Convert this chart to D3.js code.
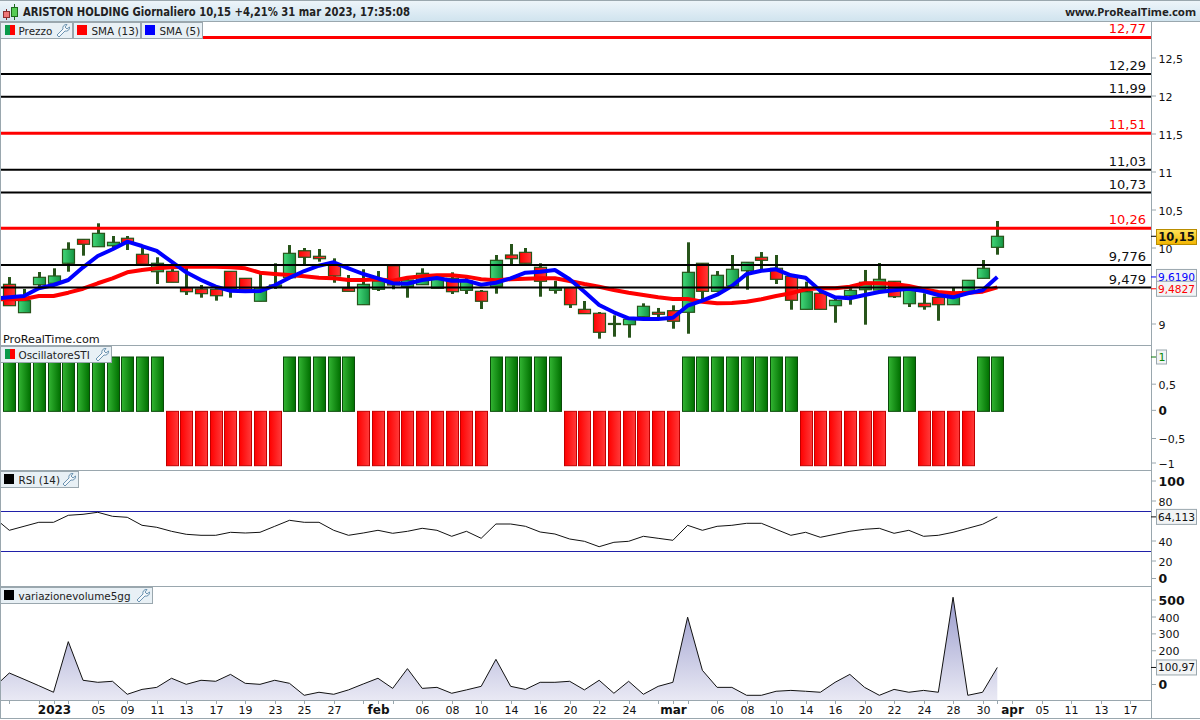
<!DOCTYPE html>
<html><head><meta charset="utf-8">
<script src="https://cdn.jsdelivr.net/npm/d3@7"></script>
<style>html,body{margin:0;padding:0;background:#fff}svg{display:block}text{font-family:"DejaVu Sans",sans-serif}</style>
</head><body><svg id="c" width="1200" height="720"></svg>
<script>
const titleText="ARISTON HOLDING Giornaliero 10,15 +4,21% 31 mar 2023, 17:35:08";
const siteText="www.ProRealTime.com";
const high=[9.618,9.461,9.684,9.733,10.075,10.118,10.325,10.158,10.158,10.026,9.878,9.737,9.776,9.513,9.474,9.693,9.605,9.658,9.799,10.039,10,9.987,9.864,9.645,9.72,9.697,9.767,9.592,9.733,9.618,9.68,9.605,9.447,9.908,10.053,10,9.799,9.57,9.487,9.303,9.158,9.114,9.092,9.272,9.211,9.246,10.075,9.803,9.697,9.908,9.816,9.947,9.908,9.632,9.557,9.434,9.355,9.474,9.711,9.803,9.566,9.474,9.404,9.355,9.478,9.579,9.842,10.355];
const low=[9.241,9.149,9.487,9.526,9.688,9.899,10.013,9.974,9.974,9.776,9.526,9.549,9.382,9.346,9.307,9.346,9.447,9.299,9.461,9.605,9.789,9.82,9.543,9.43,9.254,9.434,9.457,9.346,9.517,9.47,9.395,9.395,9.197,9.399,9.789,9.799,9.359,9.399,9.211,9.136,8.807,8.833,8.82,9.079,9.075,8.938,8.872,9.316,9.43,9.5,9.451,9.711,9.526,9.188,9.193,9.193,9.017,9.254,8.991,9.434,9.342,9.224,9.188,9.043,9.254,9.412,9.601,9.912];
const open=[9.522,9.149,9.517,9.536,9.799,10.114,10.017,10.03,10.128,9.917,9.688,9.693,9.478,9.461,9.457,9.693,9.601,9.299,9.487,9.609,9.964,9.891,9.776,9.47,9.254,9.457,9.767,9.491,9.517,9.47,9.601,9.443,9.43,9.496,9.908,9.943,9.746,9.443,9.478,9.193,9.141,9,8.991,9.096,9.154,9.175,9.154,9.799,9.43,9.5,9.701,9.878,9.733,9.628,9.193,9.404,9.241,9.372,9.451,9.447,9.562,9.267,9.272,9.351,9.254,9.412,9.601,10.009];
const close=[9.241,9.307,9.614,9.632,9.983,10.049,10.193,10.075,10.062,9.786,9.799,9.549,9.425,9.399,9.372,9.47,9.447,9.474,9.513,9.93,9.878,9.859,9.632,9.43,9.522,9.566,9.513,9.579,9.667,9.605,9.425,9.566,9.299,9.838,9.859,9.799,9.562,9.474,9.254,9.136,8.891,9.007,9.062,9.233,9.128,9.036,9.68,9.43,9.641,9.72,9.812,9.838,9.588,9.312,9.425,9.193,9.312,9.443,9.549,9.588,9.359,9.457,9.228,9.254,9.408,9.575,9.733,10.154];
const sma5=[9.336,9.351,9.368,9.47,9.513,9.579,9.746,9.895,9.983,10.083,10.026,9.961,9.82,9.68,9.579,9.491,9.438,9.43,9.434,9.509,9.609,9.697,9.767,9.812,9.733,9.658,9.601,9.536,9.53,9.579,9.605,9.57,9.57,9.517,9.543,9.601,9.675,9.688,9.711,9.588,9.425,9.25,9.154,9.075,9.066,9.066,9.083,9.241,9.307,9.386,9.5,9.658,9.701,9.72,9.641,9.609,9.438,9.351,9.338,9.382,9.421,9.443,9.464,9.434,9.382,9.351,9.404,9.443,9.619];
const sma13=[9.329,9.325,9.329,9.368,9.368,9.412,9.464,9.536,9.601,9.68,9.711,9.733,9.746,9.754,9.754,9.754,9.746,9.733,9.675,9.658,9.645,9.628,9.609,9.601,9.579,9.579,9.588,9.57,9.609,9.628,9.641,9.641,9.623,9.588,9.575,9.588,9.596,9.601,9.601,9.566,9.526,9.491,9.447,9.412,9.382,9.351,9.329,9.329,9.293,9.272,9.276,9.293,9.325,9.368,9.404,9.457,9.47,9.47,9.491,9.536,9.536,9.526,9.5,9.457,9.421,9.404,9.412,9.425,9.483];
const osc=[1,1,1,1,1,1,1,1,1,1,1,-1,-1,-1,-1,-1,-1,-1,-1,1,1,1,1,1,-1,-1,-1,-1,-1,-1,-1,-1,-1,1,1,1,1,1,-1,-1,-1,-1,-1,-1,-1,-1,1,1,1,1,1,1,1,1,-1,-1,-1,-1,-1,-1,1,1,-1,-1,-1,-1,1,1];
const rsi=[63,50.7,54.7,58.7,58.7,65.7,66.7,68.7,64.7,63.7,55.7,53.7,49.7,46.7,45.7,45.7,48.7,48,48.7,54.7,60.7,58.7,58.7,50.7,45.7,48,50.7,47.7,49.7,52.7,50.7,44.7,49.7,42.7,57,57,54.7,49,47,42,39.7,34.3,38.7,39.7,44.7,42.7,40.7,55.7,50.7,54.7,55.7,57.7,57.7,51.7,45.7,48.7,43.7,46.7,49.7,51.7,52.7,47.7,50.7,44.7,45.7,48.7,52.7,56.7,64.113];
const volVar=[-13,68,31,-7,-46,254,25,13,19,-58,-29,-17,37,1,25,19,60,7,1,25,7,-64,-46,-58,-32,3,37,-23,94,-23,-17,-52,-32,-11,149,-11,-29,13,13,19,-32,25,-52,19,-58,-11,13,399,84,-17,-17,-64,-64,-40,-35,-40,-46,13,60,-17,-64,-29,-46,-35,-46,517,-64,-46,100.97];
const levelsBlack=[12.29,11.99,11.03,10.73,9.776,9.479];
const levelsRed=[12.77,11.51,10.26];
const levelLabels={12.77:"12,77",12.29:"12,29",11.99:"11,99",11.51:"11,51",11.03:"11,03",10.73:"10,73",10.26:"10,26",9.776:"9,776",9.479:"9,479"};
const priceTicks=[12.5,12,11.5,11,10.5,10,9];
const priceTickLabels=["12,5","12","11,5","11","10,5","10","9"];
const oscTicks=[0.5,0,-0.5,-1];
const oscTickLabels=["0,5","0","−0,5","−1"];
const rsiTicks=[100,80,40,20,0];
const volTicks=[500,400,300,200,0];
const dateIdx=[3,6,8,10,12,14,16,18,20,22,25,28,30,32,34,36,38,40,42,45,48,50,52,54,56,58,60,62,64,66,68,70,72,74,76];
const dateLabels=["2023","05","09","11","13","17","19","23","25","27","feb","06","08","10","14","16","20","22","24","mar","06","08","10","14","16","20","22","24","28","30","apr","05","11","13","17"];
const minorIdx=[0,2,4,24,26,44,46,67];
const boldDates=["2023","feb","mar","apr"];
const legendPrice=["Prezzo","SMA (13)","SMA (5)"];

const W=1200,R=1151,L=0;
const svg=d3.select("#c");
const defs=svg.append("defs");
function grad(id,stops,h){const g=defs.append("linearGradient").attr("id",id);
 if(h){g.attr("x1",0).attr("x2",1).attr("y1",0).attr("y2",0);}else{g.attr("x1",0).attr("x2",0).attr("y1",0).attr("y2",1);}
 stops.forEach(s=>g.append("stop").attr("offset",s[0]).attr("stop-color",s[1]));}
grad("gG",[[0,"#42d878"],[1,"#149443"]],true);
grad("gRh",[[0,"#ff0000"],[1,"#ff3a3a"]],true);
grad("oG",[[0,"#33b533"],[1,"#006f00"]],true);
grad("oR",[[0,"#ff0000"],[1,"#ff3a3a"]],true);
grad("head",[[0,"#eef5fa"],[1,"#cfe3ee"]],false);
grad("vArea",[[0,"#9a9ccd"],[1,"#e9e9f4"]],false);
grad("gold",[[0,"#ffe25a"],[1,"#f2b400"]],false);
const frame="#9aa7ae";
const x=d3.scaleLinear().domain([0,67]).range([9.3,997.3]);
const y=d3.scaleLinear().domain([9,10]).range([324,248]);
const yO=d3.scaleLinear().domain([-1,1]).range([465.7,357]);
const yR=d3.scaleLinear().domain([0,100]).range([581,481]);
const yV=d3.scaleLinear().domain([0,400]).range([684.5,617]);

svg.append("rect").attr("width",W).attr("height",720).attr("fill","#fff");
defs.append("clipPath").attr("id","pc").append("rect").attr("x",1).attr("y",22).attr("width",R-1).attr("height",324);
defs.append("clipPath").attr("id","rc").append("rect").attr("x",1).attr("y",471).attr("width",R-1).attr("height",115);
defs.append("clipPath").attr("id","vc").append("rect").attr("x",1).attr("y",587).attr("width",R-1).attr("height",113);

// header
svg.append("rect").attr("x",0).attr("y",0).attr("width",W).attr("height",22).attr("fill","url(#head)");
svg.append("line").attr("x1",0).attr("x2",W).attr("y1",21.5).attr("y2",21.5).attr("stroke",frame);
svg.append("line").attr("x1",0).attr("x2",W).attr("y1",0.5).attr("y2",0.5).attr("stroke",frame);
const ic=svg.append("g");
ic.append("line").attr("x1",6.5).attr("x2",6.5).attr("y1",9).attr("y2",20).attr("stroke","#7a2a2a");
ic.append("rect").attr("x",3.5).attr("y",11.5).attr("width",6).attr("height",6).attr("fill","#ee7777").attr("stroke","#8a3030");
ic.append("line").attr("x1",14.5).attr("x2",14.5).attr("y1",4).attr("y2",20).attr("stroke","#1c6a1c");
ic.append("rect").attr("x",11.5).attr("y",7.5).attr("width",6).attr("height",9).attr("fill","#55cc55").attr("stroke","#1c6a1c");
svg.append("text").attr("x",23).attr("y",16).attr("font-size",11.8).attr("font-weight","bold").attr("fill","#222").attr("textLength",387).attr("lengthAdjust","spacingAndGlyphs").text(titleText);
svg.append("text").attr("x",1196).attr("y",16).attr("text-anchor","end").attr("font-size",11.4).attr("font-weight","bold").attr("fill","#222").style("font-family",'"Noto Sans",sans-serif').text(siteText);

// frame and separators
[[0.5,22,0.5,718],[R+.5,22,R+.5,718]].forEach(l=>svg.append("line").attr("x1",l[0]).attr("y1",l[1]).attr("x2",l[2]).attr("y2",l[3]).attr("stroke",frame));
[345.5,470.5,586.5,700.5].forEach(v=>svg.append("line").attr("x1",0).attr("x2",R).attr("y1",v).attr("y2",v).attr("stroke",frame));
svg.append("line").attr("x1",0).attr("x2",W).attr("y1",718.5).attr("y2",718.5).attr("stroke",frame);

// candles
const pg=svg.append("g").attr("clip-path","url(#pc)");
const idx=d3.range(open.length);
const cg=pg.append("g");
cg.selectAll("line.w").data(idx).join("line").attr("class","w")
 .attr("x1",i=>Math.round(x(i))+.5).attr("x2",i=>Math.round(x(i))+.5)
 .attr("y1",i=>y(high[i])).attr("y2",i=>y(low[i])).attr("stroke","#27541a").attr("stroke-width",3);
cg.selectAll("rect.b").data(idx).join("rect").attr("class","b")
 .attr("x",i=>Math.round(x(i))-5.5).attr("width",12)
 .attr("y",i=>y(Math.max(open[i],close[i])))
 .attr("height",i=>Math.max(1,Math.abs(y(open[i])-y(close[i]))))
 .attr("fill",i=>close[i]>=open[i]?"url(#gG)":"url(#gRh)")
 .attr("stroke","#27541a").attr("stroke-width",1.2);
levelsRed.forEach(v=>pg.append("line").attr("x1",L).attr("x2",R).attr("y1",y(v)).attr("y2",y(v)).attr("stroke","#f00").attr("stroke-width",3));
const lineP=d3.line().x((d,i)=>x(i-1)).y(d=>y(d));
pg.append("path").attr("d",lineP(sma13)).attr("fill","none").attr("stroke","#f00").attr("stroke-width",4).attr("stroke-linejoin","round");
pg.append("path").attr("d",lineP(sma5)).attr("fill","none").attr("stroke","#00f").attr("stroke-width",4).attr("stroke-linejoin","round");
levelsBlack.forEach(v=>pg.append("line").attr("x1",L).attr("x2",R).attr("y1",y(v)).attr("y2",y(v)).attr("stroke","#000").attr("stroke-width",2));

// level labels
const lbl=svg.append("g");
levelsBlack.concat(levelsRed).forEach(v=>{
 lbl.append("text").attr("x",1146).attr("y",y(v)-4).attr("text-anchor","end").attr("font-size",13)
  .attr("fill",levelsRed.includes(v)?"#f00":"#111").text(levelLabels[v]);
});
svg.append("text").attr("x",3).attr("y",343).attr("font-size",11.2).attr("fill","#111").text("ProRealTime.com");

// axis helpers
function tick(yy,txt,bold,fs){
 svg.append("line").attr("x1",R).attr("x2",R+5).attr("y1",yy).attr("y2",yy).attr("stroke",frame);
 svg.append("text").attr("x",1158.5).attr("y",yy+4.5).attr("font-size",fs||11).attr("font-weight",bold?"bold":"normal").attr("fill","#111").text(txt);
}
priceTicks.forEach((v,i)=>tick(y(v),priceTickLabels[i]));
function tag(yy,txt,col,fill){
 svg.append("line").attr("x1",R).attr("x2",R+5).attr("y1",yy).attr("y2",yy).attr("stroke",col);
 svg.append("rect").attr("x",1156.5).attr("y",yy-7.5).attr("width",40).attr("height",15).attr("fill",fill).attr("stroke",frame);
 svg.append("text").attr("x",1176.5).attr("y",yy+4).attr("text-anchor","middle").attr("font-size",10.6).attr("fill",col).text(txt);
}
// price tags
svg.append("line").attr("x1",R).attr("x2",R+5).attr("y1",y(close[67])).attr("y2",y(close[67])).attr("stroke","#000");
svg.append("rect").attr("x",1156.5).attr("y",229.5).attr("width",40).attr("height",15).attr("fill","url(#gold)").attr("stroke","#b98d00");
svg.append("text").attr("x",1176.5).attr("y",240.5).attr("text-anchor","middle").attr("font-size",11.5).attr("font-weight","bold").attr("fill","#111").text("10,15");
tag(y(sma5[68]),"9,6190","#00f","#f2f4f5");
tag(y(sma13[68])+1.5,"9,4827","#f00","#f2f4f5");

// oscillator
const og=svg.append("g");
og.selectAll("rect").data(idx).join("rect")
 .attr("x",i=>Math.round(x(i))-5.5).attr("width",12)
 .attr("y",i=>osc[i]>0?yO(osc[i]):yO(0))
 .attr("height",i=>Math.abs(yO(osc[i])-yO(0)))
 .attr("fill",i=>osc[i]>0?"url(#oG)":"url(#oR)")
 .attr("stroke",i=>osc[i]>0?"#0a4a0a":"#c00000").attr("stroke-width",1);
svg.append("line").attr("x1",R).attr("x2",R+5).attr("y1",yO(1)).attr("y2",yO(1)).attr("stroke","#0a7a0a");
svg.append("rect").attr("x",1156.5).attr("y",350).attr("width",10).attr("height",14).attr("fill","#f2f4f5").attr("stroke",frame);
svg.append("text").attr("x",1158.5).attr("y",361).attr("font-size",11).attr("fill","#0a8a0a").text("1");
oscTicks.forEach((v,i)=>tick(v===-1?463:yO(v)+(v===0?-1:0),oscTickLabels[i],v===0,v===0?12:11));

// RSI
const rg=svg.append("g").attr("clip-path","url(#rc)");
[70,30].forEach(v=>rg.append("line").attr("x1",L).attr("x2",R).attr("y1",yR(v)+.5).attr("y2",yR(v)+.5).attr("stroke","#2020a8").attr("stroke-width",1));
rg.append("path").attr("d",d3.line().x((d,i)=>x(i-1)).y(d=>yR(d))(rsi)).attr("fill","none").attr("stroke","#111").attr("stroke-width",1);
rsiTicks.forEach(v=>tick(v===0?578.5:yR(v),String(v),v===100||v===0,v===100||v===0?12.5:11));
tag(yR(rsi[68]),"64,113","#111","#f2f4f5");

// volume
const vg=svg.append("g").attr("clip-path","url(#vc)");
const bottom=700;
vg.append("path").attr("d",d3.area().x((d,i)=>x(i-1)).y0(bottom).y1(d=>yV(d))(volVar)).attr("fill","url(#vArea)");
vg.append("path").attr("d",d3.line().x((d,i)=>x(i-1)).y(d=>yV(d))(volVar)).attr("fill","none").attr("stroke","#111").attr("stroke-width",1);
volTicks.forEach(v=>tick(v===500?600:yV(v),String(v),v===500||v===0,v===500||v===0?12.5:11));
tag(yV(volVar[68]),"100,97","#111","#f2f4f5");

// date axis
minorIdx.forEach(d=>{const px=Math.round(x(d))+.5;
 svg.append("line").attr("x1",px).attr("x2",px).attr("y1",700).attr("y2",704).attr("stroke",frame);});
dateIdx.forEach((d,i)=>{
 const px=Math.round(x(d))+.5;
 svg.append("line").attr("x1",px).attr("x2",px).attr("y1",700).attr("y2",704).attr("stroke",frame);
 const b=boldDates.includes(dateLabels[i]);
 svg.append("text").attr("x",px).attr("y",714).attr("text-anchor","middle").attr("font-size",b?12:11).attr("font-weight",b?"bold":"normal").attr("fill","#111").text(dateLabels[i]);
});

// legends
function wrench(g,xx,yy){
 g.append("path").attr("d",`M${xx} ${yy+11}l6 -6a3.5 3.5 0 0 1 4 -4.5l-2 2.5 2 2 2.5 -2a3.5 3.5 0 0 1 -4.5 4l-6 6z`).attr("fill","#f4f8fb").attr("stroke","#5c88a8").attr("stroke-width",.9);
}
function legend(xx,yy,w,swatch,txt,hasW){
 const g=svg.append("g");
 g.append("rect").attr("x",xx+.5).attr("y",yy+.5).attr("width",w).attr("height",16).attr("fill","#e8f0f5").attr("stroke",frame);
 if(swatch==="split"){
  g.append("rect").attr("x",xx+5).attr("y",yy+3).attr("width",5).attr("height",10).attr("fill","#0a9a4a");
  g.append("rect").attr("x",xx+10).attr("y",yy+3).attr("width",5).attr("height",10).attr("fill","#f00");
 } else g.append("rect").attr("x",xx+4).attr("y",yy+3).attr("width",10).attr("height",10).attr("fill",swatch);
 g.append("text").attr("x",xx+18.5).attr("y",yy+12.5).attr("font-size",10.4).attr("fill","#222").text(txt);
 if(hasW) wrench(g,xx+w-15,yy+2);
}
legend(0,22,72,"split",legendPrice[0],true);
legend(73,22,67,"#f00",legendPrice[1],false);
legend(141,22,61,"#00f",legendPrice[2],false);
legend(0,346,111,"split","OscillatoreSTI",true);
legend(0,471,78,"#000","RSI (14)",true);
legend(0,587,152,"#000","variazionevolume5gg",true);
</script></body></html>
